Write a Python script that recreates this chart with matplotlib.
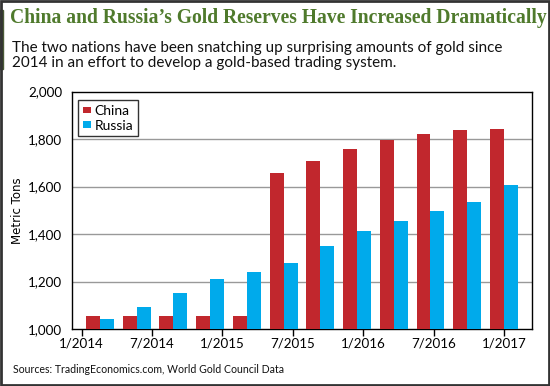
import numpy as np
import matplotlib.pyplot as plt
from matplotlib.patches import Rectangle

# quarterly gold reserves, metric tons
china = [1054, 1054, 1054, 1054, 1054, 1658, 1709, 1759, 1797, 1823, 1839, 1843]
russia = [1042, 1094, 1151, 1210, 1239, 1277, 1348, 1411, 1457, 1495, 1537, 1608]
tick_labels = ['1/2014', '7/2014', '1/2015', '7/2015', '1/2016', '7/2016', '1/2017']
y_ticks = [1000, 1200, 1400, 1600, 1800, 2000]

red = '#c1272d'
blue = '#00aaeb'
green = '#4f7a2c'

fig = plt.figure(figsize=(5.5, 3.86), dpi=100)
ax = fig.add_axes([0.131, 0.1477, 0.836, 0.615])

x = np.arange(len(china))
w = 0.38
ax.bar(x - w / 2, china, width=w, color=red, label='China', zorder=3)
ax.bar(x + w / 2, russia, width=w, color=blue, label='Russia', zorder=3)

ax.set_xlim(-0.76, 11.76)
ax.set_ylim(1000, 2000)
ax.set_xticks(np.linspace(-0.5, 11, len(tick_labels)))
ax.set_xticklabels(tick_labels, fontsize=9.6, family='Lato')
ax.set_yticks(y_ticks)
ax.set_yticklabels(['{:,}'.format(v) for v in y_ticks], fontsize=9.6, family='Lato')
ax.tick_params(axis='x', length=5, width=1, color='black', pad=1)
ax.tick_params(axis='y', length=0, pad=7)
for v in y_ticks[1:-1]:
    ax.axhline(v, color='#999999', lw=1, zorder=1)
for s in ax.spines.values():
    s.set_color('black')
    s.set_linewidth(1)

ax.set_ylabel('Metric Tons', fontsize=8.5, family='Liberation Sans Narrow', labelpad=3)

leg = ax.legend(loc='upper left', bbox_to_anchor=(0.014, 0.965),
                prop={'family': 'Lato', 'size': 10}, frameon=True, fancybox=False,
                handlelength=0.55, handleheight=0.35, handletextpad=0.25,
                borderpad=0.35, labelspacing=0.2, borderaxespad=0)
leg.get_frame().set_edgecolor('black')
leg.get_frame().set_linewidth(1)

fig.text(0.018, 0.953, 'China and Russia\u2019s Gold Reserves Have Increased Dramatically',
         fontsize=14.1, fontweight='bold', family='Liberation Serif', color=green, va='center')
fig.text(0.022, 0.857, 'The two nations have been snatching up surprising amounts of gold since\n'
         '2014 in an effort to develop a gold-based trading system.',
         fontsize=11, family='Lato', color='#111111', va='center', linespacing=1.12)
fig.text(0.024, 0.042, 'Sources: TradingEconomics.com, World Gold Council Data',
         fontsize=7.6, family='Lato', color='#111111', va='center')

# left accent bar and outer border
fig.patches.append(Rectangle((0, 0.822), 0.006, 0.152, transform=fig.transFigure,
                             color='#4a5a36', zorder=5))
fig.patches.append(Rectangle((0.002, 0.003), 0.996, 0.994, transform=fig.transFigure,
                             fill=False, edgecolor='#333333', lw=2, zorder=5))

fig.savefig('out.png', dpi=100)
